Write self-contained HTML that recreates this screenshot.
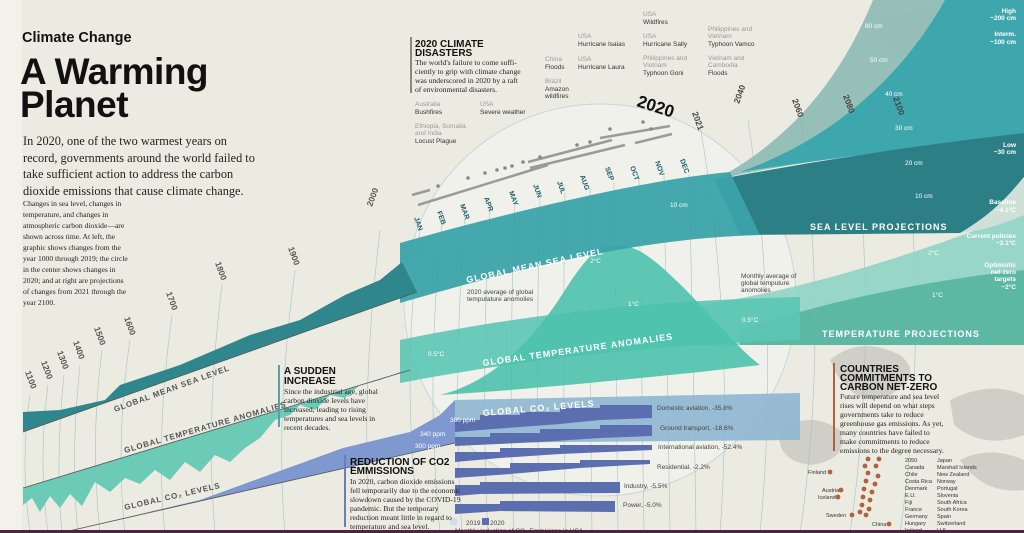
<!DOCTYPE html>
<html><head><meta charset="utf-8">
<style>
html,body{margin:0;padding:0;background:#ecebe1;}
svg{display:block}
.sans{font-family:"Liberation Sans",sans-serif}
.serif{font-family:"Liberation Serif",serif}
</style></head>
<body>
<svg width="1024" height="533" viewBox="0 0 1024 533" xmlns="http://www.w3.org/2000/svg">
<rect width="1024" height="533" fill="#ecebe1"/>
<rect x="0" y="0" width="22" height="533" fill="#f2f1ea"/>
<!-- rocks -->
<g fill="#c9c8c1" opacity="0.8">
<path d="M830 360 q30 -25 70 -5 q25 20 -10 40 q-40 15 -60 -35z"/>
<path d="M950 400 q40 -20 74 -5 l0 40 q-40 15 -70 -10z"/>
<path d="M870 300 q40 -20 90 -5 q20 15 -20 25 q-50 10 -70 -20z"/>
<path d="M780 430 q30 -20 60 0 q10 30 -30 35 q-35 -5 -30 -35z"/>
<path d="M960 460 q30 -15 64 0 l0 30 q-40 5 -64 -30z"/>
<path d="M880 20 q60 -20 120 20 q-20 30 -80 20 q-40 -10 -40 -40z" opacity="0.5"/>
</g>
<!-- circle -->
<circle cx="600" cy="300" r="196" fill="#f3f3ee" fill-opacity="0.75" stroke="#c5d8da" stroke-width="1"/>
<!-- grid lines -->
<g stroke="#9fbfc3" stroke-width="0.7" fill="none" opacity="0.8">
<path d="M420 230 Q400 380 420 533"/><path d="M442 225 Q425 380 440 533"/>
<path d="M465 218 Q452 380 462 533"/><path d="M490 210 Q480 380 488 533"/>
<path d="M515 203 Q508 380 514 533"/><path d="M540 197 Q535 380 540 533"/>
<path d="M565 193 Q562 380 566 533"/><path d="M590 188 Q590 380 592 533"/>
<path d="M614 182 Q616 380 618 533"/><path d="M639 180 Q642 380 644 533"/>
<path d="M664 176 Q668 380 670 533"/><path d="M689 174 Q694 380 696 533"/>
<path d="M700 125 Q735 330 720 533"/><path d="M748 120 Q780 330 760 533"/>
<path d="M800 115 Q830 330 800 533"/><path d="M852 110 Q880 330 850 533"/>
<path d="M902 110 Q930 330 900 533"/>
<path d="M30 395 Q20 460 30 533"/><path d="M48 385 Q38 460 48 533"/>
<path d="M64 375 Q55 460 62 533"/><path d="M80 365 Q70 460 78 533"/>
<path d="M102 350 Q90 440 100 533"/><path d="M130 340 Q115 440 125 533"/>
<path d="M172 315 Q155 440 165 533"/><path d="M222 285 Q205 420 215 533"/>
<path d="M295 270 Q275 420 285 533"/><path d="M380 230 Q360 400 370 533"/>
</g>
<!-- temperature projections -->
<path d="M700 305 C800 290 900 260 1024 212 L1024 345 L700 345Z" fill="#8fd4c4" opacity="0.9"/>
<path d="M740 330 C830 300 930 280 1024 270 L1024 345 L740 345Z" fill="#53b39e" opacity="0.85"/>
<!-- temperature center band -->
<path d="M400 340 C520 315 650 300 800 297 L800 340 C650 345 520 360 400 383Z" fill="#5cc6b4" opacity="0.9"/>
<path d="M440 395 C500 380 540 330 567 287 C590 252 600 245 617 245 C640 245 660 265 683 287 C720 325 740 350 760 365 L700 372 C600 382 520 390 440 395Z" fill="#4cc2ad" opacity="0.9"/>
<!-- sea level projections -->
<path d="M715 180 C790 140 840 80 873 0 L1024 0 L1024 133 C900 150 800 160 715 180Z" fill="#8dbab2" opacity="0.9"/>
<path d="M740 172 C830 140 900 80 945 0 L1024 0 L1024 133 C900 150 820 160 740 172Z" fill="#3ea7ae"/>
<path d="M715 180 C820 160 920 145 1024 133 L1024 177 C1000 205 985 225 960 233 L740 235 Z" fill="#2d7f86"/>
<path d="M1024 177 L1024 215 C1000 225 985 230 960 233 C990 215 1005 200 1024 177Z" fill="#cfe0d8"/>
<!-- sea level band center -->
<path d="M400 243 C500 215 640 180 730 172 L760 235 C640 238 520 268 400 303Z" fill="#3ba3aa" opacity="0.95"/>
<!-- sea level left -->
<path d="M23 432 L23 412 L60 410 L105 400 L120 385 L180 365 L250 335 L300 320 L345 295 L380 280 L402 262 L417 292 Z" fill="#2f878d"/>
<line x1="23" y1="432" x2="417" y2="292" stroke="#555" stroke-width="0.8"/>
<!-- temperature left -->
<path d="M23 488 L23 505 L32 498 L40 512 L50 496 L60 508 L70 494 L82 506 L95 482 L110 492 L125 478 L140 484 L155 470 L170 480 L185 462 L200 472 L215 455 L230 462 L245 448 L260 438 L275 420 L290 415 L300 405 L315 410 L330 395 L345 398 L360 385 L380 380 L400 372 L410 370 Z" fill="#6ccbb6"/>
<line x1="23" y1="488" x2="410" y2="370" stroke="#555" stroke-width="0.8"/>
<!-- CO2 -->
<path d="M60 533 L200 500 L343 448 L410 432 L440 415 L455 400 L455 443 Z" fill="#7f98cf"/>
<line x1="60" y1="533" x2="455" y2="443" stroke="#555" stroke-width="0.8"/>
<path d="M455 400 L800 393 L800 440 L455 443Z" fill="#8db6d2" opacity="0.9"/>
<g fill="#5b6fb0">
<path d="M455 420 L480 420 L480 415 L520 415 L520 412 L560 412 L560 408 L600 408 L600 405 L652 405 L652 418 L600 420 L560 424 L480 430 L455 432Z"/>
<path d="M455 437 L490 437 L490 433 L540 433 L540 429 L600 429 L600 425 L652 425 L652 436 L600 438 L540 442 L455 446Z"/>
<path d="M455 452 L500 452 L500 448 L560 448 L560 445 L652 445 L652 450 L560 454 L500 458 L455 462Z"/>
<path d="M455 468 L510 468 L510 463 L580 463 L580 460 L650 460 L650 464 L580 468 L510 474 L455 478Z"/>
<path d="M455 485 L480 485 L480 482 L620 482 L620 493 L480 494 L455 496Z"/>
<path d="M455 504 L500 504 L500 501 L615 501 L615 512 L500 511 L455 514Z"/>
</g>
<!-- disaster lines -->
<g stroke="#9a9a9a" stroke-width="2.5" fill="none">
<line x1="412" y1="195" x2="430" y2="190"/>
<line x1="418" y1="205" x2="548" y2="165"/>
<line x1="528" y1="162" x2="612" y2="140"/>
<line x1="530" y1="168" x2="625" y2="145"/>
<line x1="600" y1="138" x2="670" y2="126"/>
<line x1="635" y1="143" x2="672" y2="134"/>
</g>
<g fill="#888">
<circle cx="438" cy="186" r="1.8"/><circle cx="468" cy="178" r="1.8"/><circle cx="485" cy="173" r="1.8"/>
<circle cx="497" cy="170" r="1.8"/><circle cx="505" cy="168" r="1.8"/><circle cx="512" cy="166" r="1.8"/>
<circle cx="523" cy="162" r="1.8"/><circle cx="540" cy="157" r="1.8"/><circle cx="577" cy="145" r="1.8"/>
<circle cx="590" cy="142" r="1.8"/><circle cx="610" cy="129" r="1.8"/><circle cx="643" cy="122" r="1.8"/><circle cx="651" cy="129" r="1.8"/>
</g>
<!-- Title -->
<text x="22" y="42" class="sans" font-size="14.5" font-weight="bold" fill="#111">Climate Change</text>
<text x="20" y="84" class="sans" font-size="37" font-weight="bold" fill="#111" letter-spacing="-0.5">A Warming</text>
<text x="20" y="117" class="sans" font-size="37" font-weight="bold" fill="#111" letter-spacing="-0.5">Planet</text>
<g class="serif" font-size="12.3" fill="#222">
<text x="23" y="145">In 2020, one of the two warmest years on</text>
<text x="23" y="162">record, governments around the world failed to</text>
<text x="23" y="178">take sufficient action to address the carbon</text>
<text x="23" y="195">dioxide emissions that cause climate change.</text>
</g>
<g class="serif" font-size="7.6" fill="#222">
<text x="23" y="206">Changes in sea level, changes in</text>
<text x="23" y="217">temperature, and changes in</text>
<text x="23" y="228">atmospheric carbon dioxide—are</text>
<text x="23" y="239">shown across time. At left, the</text>
<text x="23" y="250">graphic shows changes from the</text>
<text x="23" y="261">year 1000 through 2019; the circle</text>
<text x="23" y="272">in the center shows changes in</text>
<text x="23" y="283">2020; and at right are projections</text>
<text x="23" y="294">of changes from 2021 through the</text>
<text x="23" y="305">year 2100.</text>
</g>
<!-- year labels left -->
<g class="sans" font-size="8.5" fill="#555" font-weight="bold">
<text transform="translate(25,372) rotate(70)">1100</text>
<text transform="translate(41,362) rotate(70)">1200</text>
<text transform="translate(57,352) rotate(70)">1300</text>
<text transform="translate(73,342) rotate(70)">1400</text>
<text transform="translate(94,328) rotate(70)">1500</text>
<text transform="translate(124,318) rotate(70)">1600</text>
<text transform="translate(166,293) rotate(70)">1700</text>
<text transform="translate(215,263) rotate(70)">1800</text>
<text transform="translate(288,248) rotate(70)">1900</text>
<text transform="translate(372,207) rotate(-70)">2000</text>
</g>
<!-- months -->
<g class="sans" font-size="7" font-weight="bold" fill="#1a5d66">
<text transform="translate(414,218) rotate(70)">JAN</text>
<text transform="translate(437,212) rotate(70)">FEB</text>
<text transform="translate(460,205) rotate(70)">MAR</text>
<text transform="translate(484,198) rotate(70)">APR</text>
<text transform="translate(509,192) rotate(70)">MAY</text>
<text transform="translate(533,185) rotate(70)">JUN</text>
<text transform="translate(557,182) rotate(70)">JUL</text>
<text transform="translate(580,176) rotate(70)">AUG</text>
<text transform="translate(605,168) rotate(70)">SEP</text>
<text transform="translate(630,167) rotate(70)">OCT</text>
<text transform="translate(655,162) rotate(70)">NOV</text>
<text transform="translate(680,160) rotate(70)">DEC</text>
</g>
<text transform="translate(636,106) rotate(18)" class="sans" font-size="17" font-weight="bold" fill="#111">2020</text>
<g class="sans" font-size="8.5" font-weight="bold" fill="#444">
<text transform="translate(692,113) rotate(70)">2021</text>
<text transform="translate(739,104) rotate(-70)">2040</text>
<text transform="translate(792,100) rotate(70)">2060</text>
<text transform="translate(843,96) rotate(70)">2080</text>
<text transform="translate(893,98) rotate(70)">2100</text>
</g>
<!-- band labels -->
<g class="sans" font-weight="bold" fill="#fff" letter-spacing="1">
<text transform="translate(467,283) rotate(-12)" font-size="9">GLOBAL MEAN SEA LEVEL</text>
<text transform="translate(483,366) rotate(-8)" font-size="9">GLOBAL TEMPERATURE ANOMALIES</text>
<text transform="translate(483,416) rotate(-5)" font-size="9">GLOBAL CO₂ LEVELS</text>
<text x="810" y="230" font-size="9">SEA LEVEL PROJECTIONS</text>
<text x="822" y="337" font-size="9">TEMPERATURE PROJECTIONS</text>
</g>
<g class="sans" font-weight="bold" fill="#555" letter-spacing="0.8" font-size="8">
<text transform="translate(115,412) rotate(-20)">GLOBAL MEAN SEA LEVEL</text>
<text transform="translate(125,453) rotate(-16)">GLOBAL TEMPERATURE ANOMALIES</text>
<text transform="translate(125,510) rotate(-13)">GLOBAL CO₂ LEVELS</text>
</g>
<!-- small annotations -->
<g class="sans" font-size="6.5" fill="#fff">
<text x="590" y="263">2°C</text><text x="628" y="306">1°C</text><text x="742" y="322">0.5°C</text>
<text x="428" y="356">0.5°C</text><text x="670" y="207">10 cm</text>
<text x="450" y="422">380 ppm</text><text x="420" y="436">340 ppm</text><text x="415" y="448">300 ppm</text>
<text x="865" y="28">60 cm</text><text x="870" y="62">50 cm</text><text x="885" y="96">40 cm</text>
<text x="895" y="130">30 cm</text><text x="905" y="165">20 cm</text><text x="915" y="198">10 cm</text>
<text x="928" y="255">2°C</text><text x="932" y="297">1°C</text>
</g>
<g class="sans" font-size="6.5" fill="#fff" font-weight="bold" text-anchor="end">
<text x="1016" y="13">High</text><text x="1016" y="20">~200 cm</text>
<text x="1016" y="36">Interm.</text><text x="1016" y="44">~100 cm</text>
<text x="1016" y="147">Low</text><text x="1016" y="154">~30 cm</text>
<text x="1016" y="204">Baseline</text><text x="1016" y="212">~4.1°C</text>
<text x="1016" y="238">Current policies</text><text x="1016" y="245">~3.1°C</text>
<text x="1016" y="267">Optimistic</text><text x="1016" y="274">net-zero</text><text x="1016" y="281">targets</text><text x="1016" y="289">~2°C</text>
</g>
<g class="sans" font-size="6.5" fill="#444">
<text x="467" y="294">2020 average of global</text><text x="467" y="301">temputature anomolies</text>
<text x="741" y="278">Monthly average of</text><text x="741" y="285">global temputure</text><text x="741" y="292">anomolies</text>
<text x="657" y="410">Domestic aviation, -35.8%</text>
<text x="660" y="430">Ground transport, -18.6%</text>
<text x="658" y="449">International aviation, -52.4%</text>
<text x="657" y="469">Residential, -2.2%</text>
<text x="624" y="488">Industry, -5.5%</text>
<text x="623" y="507">Power, -5.0%</text>
<text x="466" y="525">2019</text><text x="490" y="525">2020</text>
<text x="455" y="533">Monthly reduction of CO₂ Emmisions in USA</text>
</g>
<rect x="450" y="518" width="7" height="7" fill="#d3dde6"/><rect x="482" y="518" width="7" height="7" fill="#5b6fb0"/>
<!-- disasters labels -->
<g class="sans" font-size="6.5">
<g fill="#999"><text x="643" y="16">USA</text><text x="578" y="38">USA</text><text x="643" y="38">USA</text><text x="708" y="31">Philippines and</text><text x="708" y="38">Vietnam</text>
<text x="545" y="61">China</text><text x="578" y="61">USA</text><text x="643" y="60">Philippines and</text><text x="643" y="67">Vietnam</text><text x="708" y="60">Vietnam and</text><text x="708" y="67">Cambodia</text>
<text x="545" y="83">Brazil</text><text x="415" y="106">Australia</text><text x="480" y="106">USA</text><text x="415" y="128">Ethiopia, Somalia,</text><text x="415" y="135">and India</text></g>
<g fill="#333"><text x="643" y="24">Wildfires</text><text x="578" y="46">Hurricane Isaias</text><text x="643" y="46">Hurricane Sally</text><text x="708" y="46">Typhoon Vamco</text>
<text x="545" y="69">Floods</text><text x="578" y="69">Hurricane Laura</text><text x="643" y="75">Typhoon Goni</text><text x="708" y="75">Floods</text>
<text x="545" y="91">Amazon</text><text x="545" y="98">wildfires</text><text x="415" y="114">Bushfires</text><text x="480" y="114">Severe weather</text><text x="415" y="143">Locust Plague</text></g>
</g>
<!-- boxes -->
<rect x="410" y="37" width="2" height="56" fill="#888"/>
<text x="415" y="47" class="sans" font-size="10" font-weight="bold" fill="#111">2020 CLIMATE</text>
<text x="415" y="56" class="sans" font-size="10" font-weight="bold" fill="#111">DISASTERS</text>
<g class="serif" font-size="7.6" fill="#222"><text x="415" y="65">The world's failure to come suffi-</text><text x="415" y="74">ciently to grip with climate change</text><text x="415" y="83">was underscored in 2020 by a raft</text><text x="415" y="92">of environmental disasters.</text></g>

<rect x="278" y="365" width="2" height="62" fill="#5a9ea6"/>
<text x="284" y="374" class="sans" font-size="10" font-weight="bold" fill="#111">A SUDDEN</text>
<text x="284" y="384" class="sans" font-size="10" font-weight="bold" fill="#111">INCREASE</text>
<g class="serif" font-size="7.6" fill="#222"><text x="284" y="394">Since the industrial age, global</text><text x="284" y="403">carbon dioxide levels have</text><text x="284" y="412">increased, leading to rising</text><text x="284" y="421">temperatures and sea levels in</text><text x="284" y="430">recent decades.</text></g>

<rect x="344" y="455" width="2" height="72" fill="#6a7fba"/>
<text x="350" y="465" class="sans" font-size="10" font-weight="bold" fill="#111">REDUCTION OF CO2</text>
<text x="350" y="474" class="sans" font-size="10" font-weight="bold" fill="#111">EMMISSIONS</text>
<g class="serif" font-size="7.6" fill="#222"><text x="350" y="484">In 2020, carbon dioxide emissions</text><text x="350" y="493">fell temporarily due to the economic</text><text x="350" y="502">slowdown caused by the COVID-19</text><text x="350" y="511">pandemic. But the temporary</text><text x="350" y="520">reduction meant little in regard to</text><text x="350" y="529">temperature and sea level.</text></g>

<rect x="833" y="363" width="2" height="88" fill="#b3603f"/>
<text x="840" y="372" class="sans" font-size="10" font-weight="bold" fill="#111">COUNTRIES</text>
<text x="840" y="381" class="sans" font-size="10" font-weight="bold" fill="#111">COMMITMENTS TO</text>
<text x="840" y="390" class="sans" font-size="10" font-weight="bold" fill="#111">CARBON NET-ZERO</text>
<g class="serif" font-size="7.6" fill="#222"><text x="840" y="399">Future temperature and sea level</text><text x="840" y="408">rises will depend on what steps</text><text x="840" y="417">governments take to reduce</text><text x="840" y="426">greenhouse gas emissions. As yet,</text><text x="840" y="435">many countries have failed to</text><text x="840" y="444">make commitments to reduce</text><text x="840" y="453">emissions to the degree necessary.</text></g>
<g fill="#b3603f">
<circle cx="868" cy="459" r="2.4"/><circle cx="879" cy="459" r="2.4"/><circle cx="865" cy="466" r="2.4"/><circle cx="876" cy="466" r="2.4"/>
<circle cx="868" cy="473" r="2.4"/><circle cx="878" cy="476" r="2.4"/><circle cx="866" cy="481" r="2.4"/><circle cx="875" cy="484" r="2.4"/>
<circle cx="864" cy="489" r="2.4"/><circle cx="872" cy="492" r="2.4"/><circle cx="863" cy="497" r="2.4"/><circle cx="870" cy="500" r="2.4"/>
<circle cx="862" cy="505" r="2.4"/><circle cx="869" cy="509" r="2.4"/><circle cx="860" cy="512" r="2.4"/><circle cx="866" cy="515" r="2.4"/>
<circle cx="830" cy="472" r="2.4"/><circle cx="841" cy="490" r="2.4"/><circle cx="838" cy="497" r="2.4"/><circle cx="852" cy="515" r="2.4"/><circle cx="889" cy="524" r="2.4"/>
</g>
<g class="sans" font-size="5.5" fill="#333">
<text x="808" y="474">Finland</text><text x="822" y="492">Austria</text><text x="818" y="499">Iceland</text><text x="826" y="517">Sweden</text><text x="872" y="526">China</text>
<text x="905" y="462">2050</text><text x="905" y="469">Canada</text><text x="905" y="476">Chile</text><text x="905" y="483">Costa Rica</text><text x="905" y="490">Denmark</text><text x="905" y="497">E.U.</text><text x="905" y="504">Fiji</text><text x="905" y="511">France</text><text x="905" y="518">Germany</text><text x="905" y="525">Hungary</text><text x="905" y="532">Ireland</text>
<text x="937" y="462">Japan</text><text x="937" y="469">Marshall Islands</text><text x="937" y="476">New Zealand</text><text x="937" y="483">Norway</text><text x="937" y="490">Portugal</text><text x="937" y="497">Slovenia</text><text x="937" y="504">South Africa</text><text x="937" y="511">South Korea</text><text x="937" y="518">Spain</text><text x="937" y="525">Switzerland</text><text x="937" y="532">U.K.</text>
</g>
<rect x="0" y="530" width="1024" height="3" fill="#4a2442"/>
</svg>
</body></html>
